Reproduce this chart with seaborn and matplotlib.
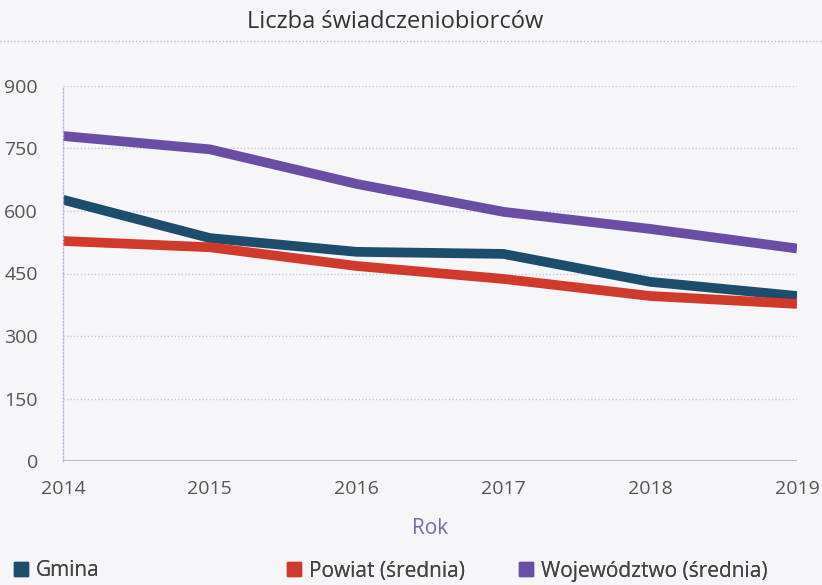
import numpy as np
import pandas as pd
import seaborn as sns
from matplotlib import pyplot as plt
from matplotlib.lines import Line2D

# dane
years = [2014, 2015, 2016, 2017, 2018, 2019]
gmina = [627, 535, 502, 497, 430, 396]
powiat = [528, 513, 468, 437, 396, 377]
wojewodztwo = [780, 748, 665, 598, 557, 510]
series_names = ['Gmina', 'Powiat (średnia)', 'Województwo (średnia)']
colors = ['#1e4d6b', '#cf3a2c', '#6a4ea3']
y_ticks = [0, 150, 300, 450, 600, 750, 900]

df = pd.DataFrame({
    'Rok': years * 3,
    'Liczba': gmina + powiat + wojewodztwo,
    'Seria': [n for n in series_names for _ in years],
})

sns.set_style('white')
plt.rcParams['font.family'] = ['Open Sans', 'DejaVu Sans']

bg = '#f6f6f8'
fig = plt.figure(figsize=(8.22, 5.85), dpi=100, facecolor=bg)
ax = fig.add_axes([63 / 822, 1 - 461 / 585, (797 - 63) / 822, (461 - 86) / 585])
ax.set_facecolor(bg)

sns.lineplot(data=df, x='Rok', y='Liczba', hue='Seria', palette=colors,
             linewidth=7, legend=False, ax=ax, solid_capstyle='butt')

ax.set_xlim(2014, 2019)
ax.set_ylim(0, 900)
ax.set_yticks(y_ticks)
ax.set_xticks(years)
ax.tick_params(axis='both', length=0, labelsize=14, labelcolor='#555555')
ax.tick_params(axis='y', pad=18)
ax.tick_params(axis='x', pad=14)
for y in y_ticks[1:]:
    ax.axhline(y, color='#c8c8dc', linestyle=(0, (1, 1.5)), linewidth=1, zorder=0)
ax.axhline(0, color='#b8b8cc', linewidth=1.5, zorder=0)
for side in ['top', 'right', 'bottom']:
    ax.spines[side].set_visible(False)
ax.spines['left'].set_color('#b8b8d4')
ax.spines['left'].set_linestyle((0, (1, 1.5)))
ax.spines['left'].set_linewidth(1)

ax.set_xlabel('Rok', fontsize=15, color='#7a6aac', labelpad=14)
ax.set_ylabel('')

fig.text(395 / 822, 1 - 22 / 585, 'Liczba świadczeniobiorców', ha='center', va='center',
         fontsize=17, color='#333333')
fig.add_artist(Line2D([0, 1], [1 - 41 / 585, 1 - 41 / 585], color='#b8b8cc',
                      linestyle=(0, (1, 1.5)), linewidth=1))

# legenda: osobny wpis dla każdej serii, żeby ustawić je jak w oryginale
legend_x = [-6, 267, 499]
for name, c, lx in zip(series_names, colors, legend_x):
    h = Line2D([], [], marker='s', linestyle='', markersize=10, color=c)
    leg = fig.legend([h], [name], loc='center left',
                     bbox_to_anchor=(lx / 822, 1 - 571 / 585), frameon=False,
                     fontsize=15, handlelength=0.8, handletextpad=0.3,
                     labelcolor='#444444')
    fig.add_artist(leg)

fig.savefig('out.png', dpi=100, facecolor=bg)
